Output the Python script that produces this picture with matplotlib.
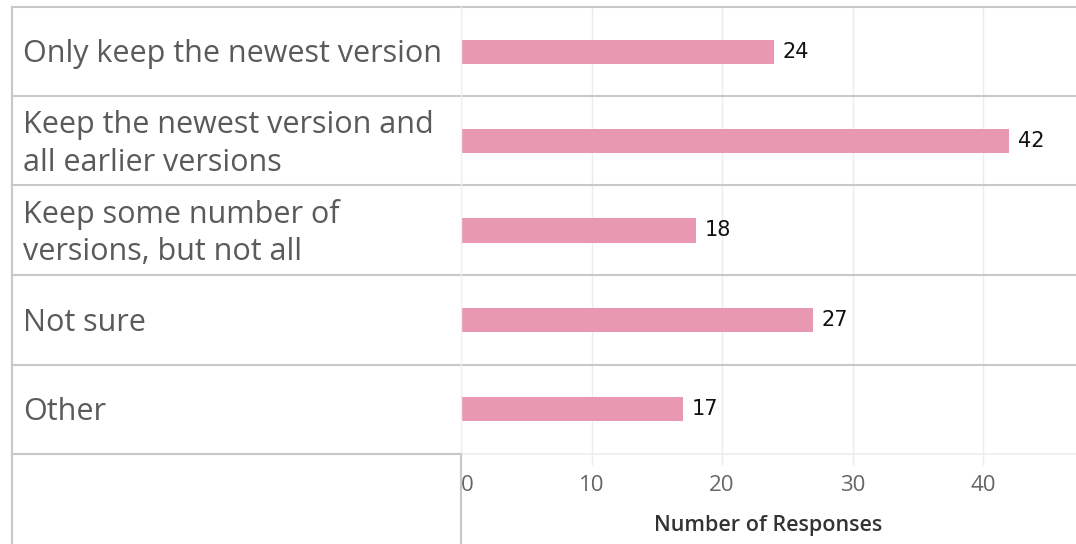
import matplotlib.pyplot as plt
from matplotlib.lines import Line2D
from matplotlib.transforms import blended_transform_factory

categories = [
    "Only keep the newest version",
    "Keep the newest version and\nall earlier versions",
    "Keep some number of\nversions, but not all",
    "Not sure",
    "Other",
]
responses = [24, 42, 18, 27, 17]
xticks = [0, 10, 20, 30, 40]

W, H = 1076, 544
fig = plt.figure(figsize=(W / 100, H / 100), dpi=100)
fig.patch.set_facecolor("white")

# plot region in pixels: left, top, right, bottom
px_l, px_t, px_r, px_b = 461, 7, 1076, 454
ax = fig.add_axes([px_l / W, 1 - px_b / H, (px_r - px_l) / W, (px_b - px_t) / H])

n = len(categories)
ypos = list(range(n))
ax.barh(ypos, responses, height=0.27, color="#e899b1", zorder=3)
ax.set_ylim(n - 0.5, -0.5)
ax.set_xlim(0, (px_r - px_l) / 13.05)

for y, v in zip(ypos, responses):
    ax.text(v + 0.65, y, str(v), va="center", ha="left",
            fontsize=15, color="#111111", family="DejaVu Sans")

ax.set_xticks(xticks)
ax.set_xticklabels([str(t) for t in xticks])
ax.tick_params(axis="x", length=8, color="#ececec", width=1, pad=7,
               labelsize=16, labelcolor="#666666")
for lab in ax.get_xticklabels():
    lab.set_family("Open Sans")
ax.get_xticklabels()[0].set_ha("left")
ax.set_yticks([])
ax.grid(axis="x", color="#ececec", linewidth=1, zorder=0)
for s in ax.spines.values():
    s.set_visible(False)
ax.set_xlabel("Number of Responses", fontsize=15.5, color="#333333",
              family="Open Sans", fontweight="semibold", labelpad=14)

# row labels on the left side
trans = blended_transform_factory(fig.transFigure, ax.transData)
for y, c in zip(ypos, categories):
    fig.text(23 / W, y + 0.03, c, transform=trans, ha="left", va="center",
             fontsize=22, color="#5a5a5a", family="Open Sans",
             linespacing=1.33)


def fx(p):
    return p / W


def fy(p):
    return 1 - p / H


line_col = "#c8c8c8"
# horizontal row separators
fig.add_artist(Line2D([fx(12), fx(W)], [fy(px_t), fy(px_t)], color=line_col, lw=1.5))
for yb in [96, 185, 275, 365]:
    fig.add_artist(Line2D([fx(12), fx(W)], [fy(yb), fy(yb)], color=line_col, lw=1.5))
fig.add_artist(Line2D([fx(12), fx(px_l)], [fy(px_b), fy(px_b)], color=line_col, lw=1.5))
fig.add_artist(Line2D([fx(px_l), fx(W)], [fy(px_b), fy(px_b)], color="#eeeeee", lw=1.2))
# vertical borders
fig.add_artist(Line2D([fx(12), fx(12)], [fy(px_t), fy(H)], color=line_col, lw=1.5))
fig.add_artist(Line2D([fx(px_l), fx(px_l)], [fy(px_t), fy(px_b)], color="#f0f0f0", lw=1))
fig.add_artist(Line2D([fx(px_l), fx(px_l)], [fy(px_b), fy(H)], color=line_col, lw=1.5))

fig.savefig("out.png", dpi=100)
